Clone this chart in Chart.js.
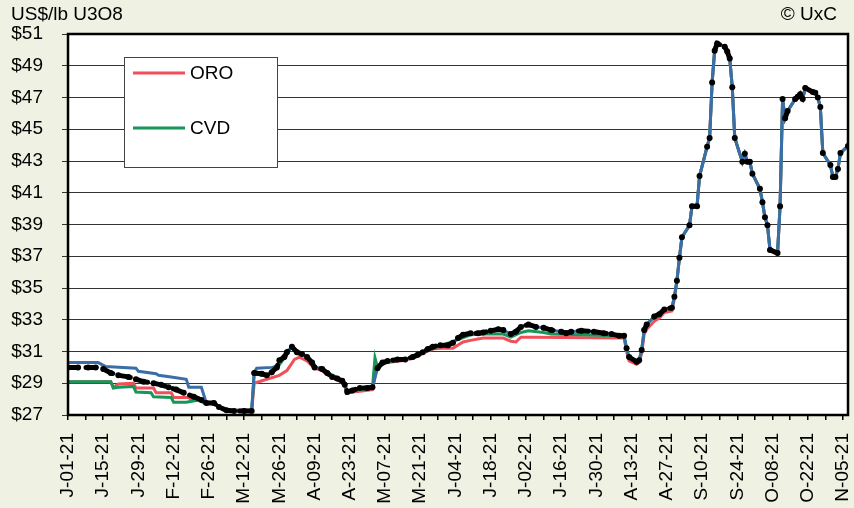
<!DOCTYPE html>
<html>
<head>
<meta charset="utf-8">
<script src="https://cdn.jsdelivr.net/npm/chart.js@4.4.0/dist/chart.umd.min.js"></script>
<style>
  html, body { margin: 0; padding: 0; background: #eff1e3; }
  #wrap { width: 854px; height: 508px; }
</style>
</head>
<body>
<div id="wrap"><canvas id="chart" width="854" height="508"></canvas></div>
<script>
// x = days since 1 Jan 2021, labels every two weeks
const xTickLabels = ['J-01-21', 'J-15-21', 'J-29-21', 'F-12-21', 'F-26-21', 'M-12-21', 'M-26-21', 'A-09-21',
  'A-23-21', 'M-07-21', 'M-21-21', 'J-04-21', 'J-18-21', 'J-02-21', 'J-16-21', 'J-30-21', 'A-13-21',
  'A-27-21', 'S-10-21', 'S-24-21', 'O-08-21', 'O-22-21', 'N-05-21']

// spot price (black dots)
const spotDays = [0, 4, 8, 11, 14, 17, 20, 24, 27, 30, 34, 37, 40, 43, 46, 50, 53, 55, 58, 60, 63, 66, 70, 73,
  74, 77, 79, 81, 83, 84, 86, 87, 89, 91, 93, 95, 97, 98, 101, 103, 105, 107, 109, 110, 111, 113, 116, 119, 121,
  123, 125, 127, 131, 134, 137, 139, 141, 143, 145, 148, 151, 153, 155, 157, 160, 163, 165, 168, 171, 173, 176,
  178, 180, 183, 186, 189, 192, 196, 198, 200, 204, 209, 213, 216, 219, 221, 222, 223, 226, 227, 228, 229, 230,
  233, 235, 237, 240, 241, 242, 243, 244, 247, 248, 250, 251, 254, 255, 256, 257, 258, 261, 262, 263, 264, 265,
  268, 269, 270, 271, 272, 275, 276, 277, 278, 279, 282, 283, 284, 285, 286, 289, 290, 291, 292, 293, 296, 297,
  298, 299, 300, 303, 304, 305, 306, 307, 310]
const spotPrices = [30.0, 30.0, 30.0, 30.0, 29.9, 29.65, 29.5, 29.4, 29.25, 29.1, 29.0, 28.9, 28.75, 28.6, 28.4,
  28.15, 27.95, 27.75, 27.75, 27.5, 27.3, 27.25, 27.25, 27.25,
  29.65, 29.6, 29.5, 29.7, 30.0, 30.45, 30.65, 30.95, 31.3, 30.95, 30.85, 30.65, 30.3, 30.0, 29.9, 29.65, 29.4,
  29.3, 29.15, 28.9, 28.45, 28.55, 28.7, 28.7, 28.75,
  29.95, 30.3, 30.4, 30.5, 30.5, 30.65, 30.8, 30.95, 31.15, 31.3, 31.4, 31.4, 31.55, 31.85, 32.05, 32.15, 32.15,
  32.2, 32.3, 32.4, 32.35, 32.1,
  32.25, 32.55, 32.7, 32.55, 32.5, 32.35, 32.25, 32.15, 32.25, 32.3, 32.25, 32.15, 32.1, 32.0, 32.0, 31.2, 30.65,
  30.35, 30.45, 31.1, 32.35, 32.7,
  33.2, 33.35, 33.65, 33.75, 34.45, 35.45, 36.9, 38.2, 38.95, 40.15, 40.15, 42.05, 43.9, 44.45, 47.95, 49.95, 50.4,
  50.2, 49.9, 49.45, 47.65, 44.45,
  42.95, 43.45, 42.95, 42.95, 42.2, 41.25, 40.4, 39.45, 38.95, 37.4, 37.2, 40.15, 46.9, 45.7, 46.15, 46.9, 47.05,
  47.2, 46.9, 47.6, 47.35, 47.3,
  47.0, 46.4, 43.5, 42.75, 42.0, 42.0, 42.5, 43.5, 43.95]

// blue series, early part (later it runs with the spot price)
const blueDays = [0, 12, 15, 27, 28, 35, 36, 41, 47, 48, 53, 55, 58, 60, 63, 73, 74, 75, 81, 83]
const bluePrices = [30.3, 30.3, 30.05, 29.95, 29.75, 29.6, 29.5, 29.4, 29.25, 28.75, 28.75, 27.75, 27.75, 27.5,
  27.3, 27.3, 29.7, 29.95, 30.0, 30.05]

// ORO (red), up to early September
const oroDays = [0, 17, 18, 20, 26, 27, 34, 35, 41, 42, 48, 49, 54, 55, 58, 60, 63, 73, 74, 79, 84, 87, 90, 92,
  95, 97, 98, 101, 103, 105, 109, 110, 111, 113, 116, 121, 123, 127, 134, 139, 141, 145, 148, 153, 157, 160, 165,
  173, 176, 178, 180, 186, 219, 221, 222, 223, 226, 227, 228, 229, 230, 233, 235, 237, 240, 241]
const oroPrices = [29.1, 29.1, 28.75, 28.95, 29.0, 28.7, 28.7, 28.4, 28.4, 28.1, 28.1, 27.95, 27.95, 27.75, 27.75,
  27.5, 27.3, 27.3, 29.0, 29.25, 29.5, 29.8, 30.5, 30.65,
  30.4, 30.1, 29.95, 29.8, 29.55, 29.35, 29.05, 28.8, 28.4, 28.45, 28.5, 28.6, 30.15, 30.3, 30.45, 30.7, 30.9,
  31.15, 31.2, 31.2, 31.6, 31.7, 31.85,
  31.85, 31.65, 31.6, 31.9, 31.9, 31.85, 31.85, 31.0, 30.4, 30.2, 30.3, 30.9, 32.1, 32.4, 32.9, 33.1, 33.45,
  33.55, 34.3]

// CVD (green), up to late August
const cvdDays = [0, 17, 18, 20, 26, 27, 33, 34, 41, 42, 47, 52, 54, 58, 60, 63, 73, 74, 79, 83, 86, 89, 91, 95,
  98, 103, 107, 110, 111, 113, 121, 122, 123, 127, 134, 141, 148, 155, 160, 165, 173, 176, 180, 183, 189, 192,
  219, 221]
const cvdPrices = [29.1, 29.1, 28.7, 28.75, 28.8, 28.45, 28.4, 28.15, 28.1, 27.8, 27.8, 27.95, 27.75, 27.75, 27.5,
  27.25, 27.25, 29.6, 29.45, 29.95, 30.6, 31.35, 31.0, 30.7,
  30.05, 29.7, 29.35, 28.95, 28.45, 28.55, 28.7, 30.6, 30.0, 30.35, 30.5, 30.95, 31.35, 31.75, 32.05, 32.1, 32.1,
  31.9, 32.2, 32.3, 32.2, 32.1, 32.0, 32.0]

const toPoints = (days, values) => days.map((d, i) => ({ x: d, y: values[i] }))
const spotPoints = toPoints(spotDays, spotPrices)
const after = day => spotPoints.filter(p => p.x > day)

const bluePoints = toPoints(blueDays, bluePrices).concat(after(blueDays[blueDays.length - 1]))
const oroPoints = toPoints(oroDays, oroPrices).concat(after(oroDays[oroDays.length - 1]))
const cvdPoints = toPoints(cvdDays, cvdPrices).concat(after(cvdDays[cvdDays.length - 1]))

const FONT = "'Liberation Sans', Arial, sans-serif"
const BG = '#eff1e3'
const RED = '#f0505a'
const GREEN = '#17965a'
const BLUE = '#3a6ea8'

Chart.defaults.font.family = FONT
Chart.defaults.font.size = 19
Chart.defaults.color = '#000'

// page background, white plot area, legend box, border and corner texts
const decor = {
  id: 'decor',
  beforeDraw(chart) {
    const { ctx, chartArea: a } = chart
    ctx.save()
    ctx.fillStyle = BG
    ctx.fillRect(0, 0, chart.width, chart.height)
    ctx.fillStyle = '#fff'
    ctx.fillRect(a.left, a.top, a.right - a.left, a.bottom - a.top)
    ctx.restore()
  },
  afterDatasetsDraw(chart) {
    const { ctx, chartArea: a } = chart
    ctx.save()
    // legend
    ctx.fillStyle = '#fff'
    ctx.fillRect(124, 57, 153, 110)
    ctx.strokeStyle = '#444'
    ctx.lineWidth = 1
    ctx.strokeRect(124.5, 57.5, 153, 110)
    const items = [chart.data.datasets[3], chart.data.datasets[2]]
    items.forEach((ds, i) => {
      const y = 73 + i * 55
      ctx.strokeStyle = ds.borderColor
      ctx.lineWidth = 3
      ctx.beginPath()
      ctx.moveTo(133, y)
      ctx.lineTo(185, y)
      ctx.stroke()
      ctx.fillStyle = '#000'
      ctx.font = '19px ' + FONT
      ctx.textBaseline = 'middle'
      ctx.textAlign = 'left'
      ctx.fillText(ds.label, 190, y + 1)
    })
    // plot border
    ctx.strokeStyle = '#000'
    ctx.lineWidth = 2.5
    ctx.strokeRect(a.left, a.top, a.right - a.left, a.bottom - a.top)
    // corner texts
    ctx.font = '19px ' + FONT
    ctx.textBaseline = 'middle'
    ctx.textAlign = 'left'
    ctx.fillText('US$/lb U3O8', 11, 15)
    ctx.textAlign = 'right'
    ctx.fillText('\u00A9 UxC', 837, 15)
    ctx.restore()
  }
}

new Chart(document.getElementById('chart'), {
  type: 'line',
  data: {
    datasets: [
      {
        label: 'Spot',
        data: spotPoints,
        borderColor: '#000',
        borderWidth: 5,
        borderDash: [10, 8],
        borderCapStyle: 'round',
        pointRadius: 3,
        pointBackgroundColor: '#000',
        pointBorderWidth: 0,
        segment: {
          borderColor: c => Math.abs(c.p1.parsed.y - c.p0.parsed.y) > 0.45 ? 'rgba(0,0,0,0)' : '#000'
        }
      },
      {
        label: 'Blue',
        data: bluePoints,
        borderColor: BLUE,
        borderWidth: 3,
        pointRadius: 0
      },
      {
        label: 'CVD',
        data: cvdPoints,
        borderColor: GREEN,
        borderWidth: 3,
        pointRadius: 0
      },
      {
        label: 'ORO',
        data: oroPoints,
        borderColor: RED,
        borderWidth: 3,
        pointRadius: 0
      }
    ]
  },
  options: {
    responsive: false,
    animation: false,
    events: [],
    layout: { padding: { top: 34, right: 6, left: 0, bottom: 0 } },
    plugins: { legend: { display: false }, tooltip: { enabled: false } },
    scales: {
      x: {
        type: 'linear',
        min: 0,
        max: 310,
        afterFit: s => {
          s.height = 93
          s.paddingLeft = 0
          s.paddingRight = 0
        },
        border: { display: false },
        grid: { drawOnChartArea: false, drawTicks: true, tickLength: 5, color: '#000', lineWidth: 1.5 },
        ticks: {
          stepSize: 7,
          includeBounds: false,
          autoSkip: false,
          minRotation: 90,
          maxRotation: 90,
          padding: 13,
          callback: v => (v % 14 === 0 ? xTickLabels[v / 14] : '')
        }
      },
      y: {
        min: 27,
        max: 51,
        afterFit: s => {
          s.width = 68
          s.paddingTop = 0
          s.paddingBottom = 0
        },
        border: { display: false },
        grid: { color: '#333', lineWidth: 1, tickLength: 6 },
        ticks: {
          stepSize: 2,
          padding: 19,
          callback: v => '$' + v
        }
      }
    }
  },
  plugins: [decor]
})
</script>
</body>
</html>
